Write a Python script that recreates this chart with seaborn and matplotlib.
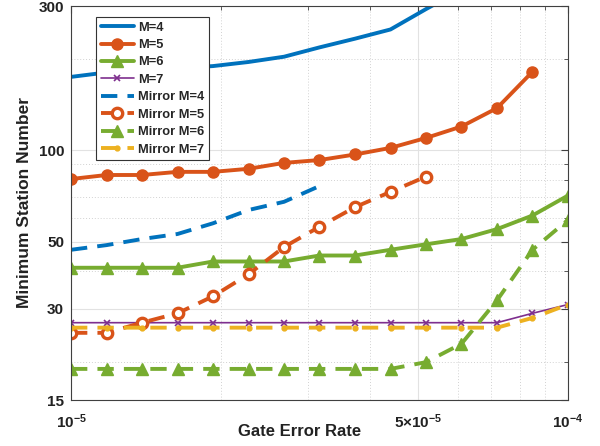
import matplotlib
matplotlib.use("Agg")
import matplotlib.pyplot as plt
import seaborn as sns
import numpy as np
import pandas as pd
from matplotlib.ticker import FixedLocator, FixedFormatter, NullFormatter

# ---------------- data ----------------
gate_error_rate = [1.0e-5, 1.179e-5, 1.389e-5, 1.638e-5, 1.931e-5, 2.276e-5,
                   2.683e-5, 3.162e-5, 3.728e-5, 4.394e-5, 5.179e-5, 6.105e-5,
                   7.197e-5, 8.483e-5, 1.0e-4]
m4 = [175, 181, 184, 187, 190, 196, 204, 219, 234, 251, 293, 340]
m5 = [80.5, 83, 83, 85, 85, 87, 91, 93, 97, 102, 110, 120, 138, 182]
m6 = [41, 41, 41, 41, 43, 43, 43, 45, 45, 47, 49, 51, 55, 61, 71]
m7 = [27, 27, 27, 27, 27, 27, 27, 27, 27, 27, 27, 27, 27, 29, 31]
mirror_m4 = [47, 48.7, 51, 53, 57.5, 63.6, 67.7, 76.3]
mirror_m5 = [25, 25, 27, 29, 33, 39, 48, 56, 65, 73, 82]
mirror_m6 = [19, 19, 19, 19, 19, 19, 19, 19, 19, 19, 20, 23, 32, 47, 59]
mirror_m7 = [26, 26, 26, 26, 26, 26, 26, 26, 26, 26, 26, 26, 26, 28, 31]

y_ticks = [15, 30, 50, 100, 300]
y_tick_labels = ["15", "30", "50", "100", "300"]
x_ticks = [1e-5, 5e-5, 1e-4]
x_tick_labels = [r"$\mathbf{10^{-5}}$", r"$\mathbf{5{\times}10^{-5}}$", r"$\mathbf{10^{-4}}$"]

# ---------------- style ----------------
sns.set_theme(style="white")
plt.rcParams["font.family"] = ["Liberation Sans", "DejaVu Sans"]
plt.rcParams["font.weight"] = "bold"
plt.rcParams["mathtext.fontset"] = "custom"
plt.rcParams["mathtext.rm"] = "Liberation Sans"
plt.rcParams["mathtext.bf"] = "Liberation Sans:bold"

BLUE = "#0072BD"
ORANGE = "#D95319"
YELLOW = "#EDB120"
PURPLE = "#7E2F8E"
GREEN = "#77AC30"

fig = plt.figure(figsize=(6.0, 4.46), dpi=100)
ax = fig.add_axes([71 / 600, 1 - 400 / 446, 497 / 600, 394 / 446])

dash = (0, (4.2, 2.6))
lw = 2.8

series = [
    ("M=4", m4, dict(color=BLUE, lw=lw, ls="-")),
    ("M=5", m5, dict(color=ORANGE, lw=lw, ls="-", marker="o", ms=8, mec=ORANGE, mfc=ORANGE, mew=1)),
    ("M=6", m6, dict(color=GREEN, lw=lw, ls="-", marker="^", ms=9, mec=GREEN, mfc=GREEN, mew=1)),
    ("M=7", m7, dict(color=PURPLE, lw=1.2, ls="-", marker="x", ms=4, mec=PURPLE, mew=1.2)),
    ("Mirror M=4", mirror_m4, dict(color=BLUE, lw=lw, ls=dash)),
    ("Mirror M=5", mirror_m5, dict(color=ORANGE, lw=lw, ls=dash, marker="o", ms=7.5, mec=ORANGE, mfc="white", mew=2.4)),
    ("Mirror M=6", mirror_m6, dict(color=GREEN, lw=lw, ls=dash, marker="^", ms=9, mec=GREEN, mfc=GREEN, mew=1)),
    ("Mirror M=7", mirror_m7, dict(color=YELLOW, lw=lw, ls=dash, marker="o", ms=3.5, mec=YELLOW, mfc=YELLOW, mew=1)),
]

for name, vals, kw in series:
    df = pd.DataFrame({"rate": gate_error_rate[:len(vals)], "n": vals})
    sns.lineplot(data=df, x="rate", y="n", ax=ax, label=name, **kw)

ax.set_xscale("log")
ax.set_yscale("log")
ax.set_xlim(1e-5, 1e-4)
ax.set_ylim(15, 300)

ax.yaxis.set_major_locator(FixedLocator(y_ticks))
ax.yaxis.set_major_formatter(FixedFormatter(y_tick_labels))
ax.yaxis.set_minor_locator(FixedLocator([20, 40, 60, 70, 80, 90, 200]))
ax.yaxis.set_minor_formatter(NullFormatter())
ax.xaxis.set_major_locator(FixedLocator(x_ticks))
ax.xaxis.set_major_formatter(FixedFormatter(x_tick_labels))
ax.xaxis.set_minor_locator(FixedLocator([2e-5, 3e-5, 4e-5, 6e-5, 7e-5, 8e-5, 9e-5]))
ax.xaxis.set_minor_formatter(NullFormatter())

ax.grid(True, which="major", color="#e2e2e2", lw=0.8, ls="-")
ax.grid(True, which="minor", color="#d2d2d2", lw=0.7, ls=(0, (1, 2)))
ax.set_axisbelow(True)

for s in ax.spines.values():
    s.set_color("#404040")
    s.set_linewidth(0.8)
ax.tick_params(which="both", direction="in", top=True, right=True, colors="#404040",
               labelcolor="#222222")
ax.tick_params(which="major", length=5, width=0.8, labelsize=11, pad=5)
ax.tick_params(which="minor", length=3, width=0.6)
ax.tick_params(axis="x", which="major", pad=9)
for t in ax.get_yticklabels():
    t.set_fontweight("bold")

ax.set_xlabel("Gate Error Rate", fontsize=12, fontweight="bold", color="#222222")
ax.set_ylabel("Minimum Station Number", fontsize=12.5, fontweight="bold", color="#222222")
ax.xaxis.set_label_coords(0.46, -0.062)
ax.yaxis.set_label_coords(-0.079, 0.5)

leg = ax.legend(loc="upper left", bbox_to_anchor=(25 / 497, 1 - 11 / 394), prop=dict(size=9.3, weight="bold"),
                handlelength=2.6, handletextpad=0.3, labelspacing=0.42, borderpad=0.35,
                borderaxespad=0, fancybox=False, framealpha=1, edgecolor="#333333")
leg.get_frame().set_linewidth(0.8)

fig.savefig("out.png", dpi=100)
